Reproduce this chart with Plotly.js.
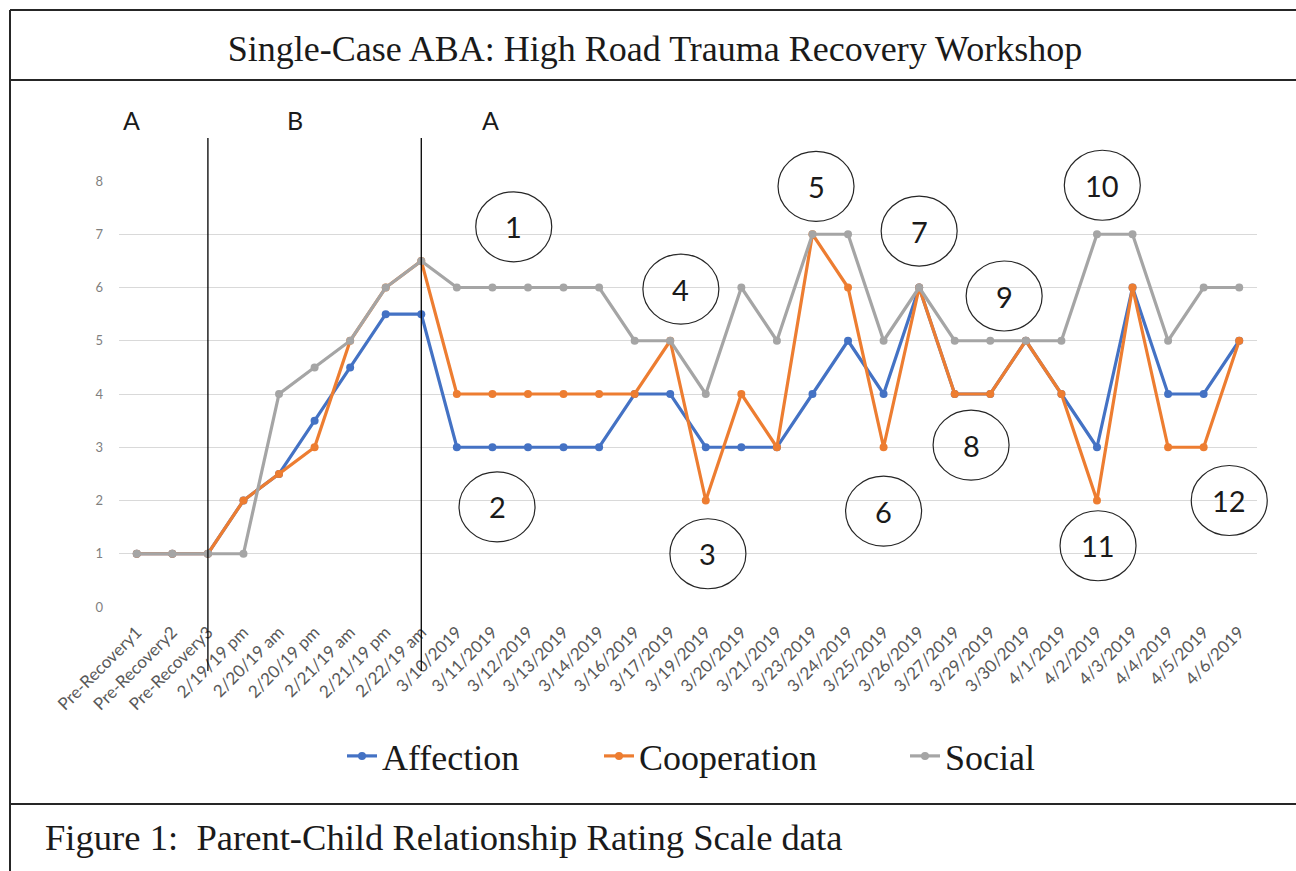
<!DOCTYPE html>
<html>
<head>
<meta charset="utf-8">
<script src="https://cdn.plot.ly/plotly-3.0.1.min.js"></script>
<style>
  html, body { margin: 0; padding: 0; background: #ffffff; }
  #chart { width: 1296px; height: 871px; }
</style>
</head>
<body>
<div id="chart"></div>
<script>
// ---- data ----
const categories = [
  'Pre-Recovery1', 'Pre-Recovery2', 'Pre-Recovery3',
  '2/19/19 pm', '2/20/19 am', '2/20/19 pm', '2/21/19 am', '2/21/19 pm', '2/22/19 am',
  '3/10/2019', '3/11/2019', '3/12/2019', '3/13/2019', '3/14/2019', '3/16/2019',
  '3/17/2019', '3/19/2019', '3/20/2019', '3/21/2019', '3/23/2019', '3/24/2019',
  '3/25/2019', '3/26/2019', '3/27/2019', '3/29/2019', '3/30/2019',
  '4/1/2019', '4/2/2019', '4/3/2019', '4/4/2019', '4/5/2019', '4/6/2019'
];
const affection   = [1, 1, 1, 2, 2.5, 3.5, 4.5, 5.5, 5.5, 3, 3, 3, 3, 3, 4, 4, 3, 3, 3, 4, 5, 4, 6, 4, 4, 5, 4, 3, 6, 4, 4, 5];
const cooperation = [1, 1, 1, 2, 2.5, 3, 5, 6, 6.5, 4, 4, 4, 4, 4, 4, 5, 2, 4, 3, 7, 6, 3, 6, 4, 4, 5, 4, 2, 6, 3, 3, 5];
const social      = [1, 1, 1, 1, 4, 4.5, 5, 6, 6.5, 6, 6, 6, 6, 6, 5, 5, 4, 6, 5, 7, 7, 5, 6, 5, 5, 5, 5, 7, 7, 5, 6, 6];
const seriesNames = ['Affection', 'Cooperation', 'Social'];
const yTicks = [0, 1, 2, 3, 4, 5, 6, 7, 8];

// phase labels and phase boundaries (category index)
const phaseLabels = ['A', 'B', 'A'];
const phaseBoundaries = [2, 8];

// circled note numbers: position as (category index, rating value)
const noteNumbers = ['1', '2', '3', '4', '5', '6', '7', '8', '9', '10', '11', '12'];
const noteIdx =    [10.6, 10.13, 16.06, 15.3, 19.1, 21.0, 22.0, 23.46, 24.39, 27.15, 27.03, 30.72];
const noteVal =    [7.14, 1.88, 1.0, 5.97, 7.9, 1.8, 7.06, 3.04, 5.84, 7.92, 1.15, 2.0];

const titleText = 'Single-Case ABA: High Road Trauma Recovery Workshop';
const captionText = 'Figure 1:\u00a0\u00a0Parent-Child Relationship Rating Scale data';

// ---- geometry ----
const W = 1296, H = 871;
const M = { l: 119, r: 39, t: 181, b: 264 };
const PW = W - M.l - M.r, PH = H - M.t - M.b;
const px2x = p => (p - M.l) / PW;
const px2y = p => (H - M.b - p) / PH;
const nCat = categories.length;
const idx2paper = i => (i + 0.5) / nCat;
const val2paper = v => v / 8;

const colors = ['#4472C4', '#ED7D31', '#A5A5A5'];
const values = [affection, cooperation, social];
const legendIds = ['legend', 'legend2', 'legend3'];
const legendLeftPx = [342, 599, 905];

const traces = values.map((vals, k) => ({
  type: 'scatter',
  mode: 'lines+markers',
  name: seriesNames[k],
  legend: legendIds[k],
  x: categories,
  y: vals,
  line: { color: colors[k], width: 3.2 },
  marker: { color: colors[k], size: 8 },
  cliponaxis: false,
  hoverinfo: 'x+y+name'
}));

const shapes = [];
const ink = '#262626';
// frame lines
shapes.push({ type: 'line', xref: 'paper', yref: 'paper', x0: px2x(10), x1: px2x(10), y0: px2y(10), y1: px2y(H), line: { color: ink, width: 2 } });
shapes.push({ type: 'line', xref: 'paper', yref: 'paper', x0: px2x(10), x1: px2x(W), y0: px2y(10), y1: px2y(10), line: { color: ink, width: 2 } });
shapes.push({ type: 'line', xref: 'paper', yref: 'paper', x0: px2x(10), x1: px2x(W), y0: px2y(80), y1: px2y(80), line: { color: ink, width: 2 } });
shapes.push({ type: 'line', xref: 'paper', yref: 'paper', x0: px2x(10), x1: px2x(W), y0: px2y(804), y1: px2y(804), line: { color: ink, width: 2 } });
// phase boundaries
phaseBoundaries.forEach(b => {
  shapes.push({ type: 'line', xref: 'x', yref: 'paper', x0: b, x1: b, y0: px2y(138), y1: px2y(671), line: { color: '#000000', width: 1.3 } });
});
// note circles
noteNumbers.forEach((n, i) => {
  shapes.push({
    type: 'circle', xref: 'paper', yref: 'paper',
    xsizemode: 'pixel', ysizemode: 'pixel',
    xanchor: idx2paper(noteIdx[i]), yanchor: val2paper(noteVal[i]),
    x0: -38, x1: 38, y0: -35, y1: 35,
    line: { color: ink, width: 1.2 }, fillcolor: 'rgba(0,0,0,0)'
  });
});

const annotations = [];
noteNumbers.forEach((n, i) => {
  annotations.push({
    xref: 'paper', yref: 'paper', x: idx2paper(noteIdx[i]), y: val2paper(noteVal[i]),
    text: n, showarrow: false, xanchor: 'center', yanchor: 'middle',
    font: { family: 'Lato, sans-serif', size: 29, color: '#1a1a1a' }
  });
});
// phase labels
const phaseX = [131, 295, 491];
phaseLabels.forEach((t, i) => {
  annotations.push({
    xref: 'paper', yref: 'paper', x: px2x(phaseX[i]), y: px2y(120),
    text: t, showarrow: false, xanchor: 'center', yanchor: 'middle',
    font: { family: 'Lato, sans-serif', size: 25, color: '#1a1a1a' }
  });
});
// caption
annotations.push({
  xref: 'paper', yref: 'paper', x: px2x(43), y: px2y(837),
  text: captionText, showarrow: false, xanchor: 'left', yanchor: 'middle',
  font: { family: 'Liberation Serif, serif', size: 36.6, color: '#1a1a1a' }
});

const legendBase = {
  orientation: 'h', xref: 'paper', yref: 'paper',
  y: px2y(756), xanchor: 'left', yanchor: 'middle',
  font: { family: 'Liberation Serif, serif', size: 36, color: '#1a1a1a' },
  bgcolor: 'rgba(0,0,0,0)', itemwidth: 30
};

const layout = {
  width: W, height: H,
  margin: M,
  paper_bgcolor: '#ffffff', plot_bgcolor: '#ffffff',
  title: {
    text: titleText,
    xref: 'container', yref: 'container', x: 655 / W, y: 1 - 48 / H,
    xanchor: 'center', yanchor: 'middle',
    font: { family: 'Liberation Serif, serif', size: 36, color: '#1a1a1a' }
  },
  showlegend: true,
  legend:  Object.assign({}, legendBase, { x: px2x(legendLeftPx[0]) }),
  legend2: Object.assign({}, legendBase, { x: px2x(legendLeftPx[1]) }),
  legend3: Object.assign({}, legendBase, { x: px2x(legendLeftPx[2]) }),
  xaxis: {
    type: 'category',
    range: [-0.5, nCat - 0.5],
    tickangle: -45,
    tickfont: { family: 'Lato, sans-serif', size: 17, color: '#595959' },
    showgrid: false, zeroline: false, showline: false,
    ticks: '', ticklabelstandoff: 11, fixedrange: true
  },
  yaxis: {
    range: [0, 8],
    tickvals: yTicks,
    ticktext: yTicks.map(String),
    tickfont: { family: 'Lato, sans-serif', size: 13, color: '#7f7f7f' },
    showgrid: true, gridcolor: '#d9d9d9', gridwidth: 1,
    zeroline: false, showline: false, ticks: '', ticklabelstandoff: 15,
    fixedrange: true
  },
  shapes: shapes,
  annotations: annotations
};

Plotly.newPlot('chart', traces, layout, { displayModeBar: false, staticPlot: true });
</script>
</body>
</html>
